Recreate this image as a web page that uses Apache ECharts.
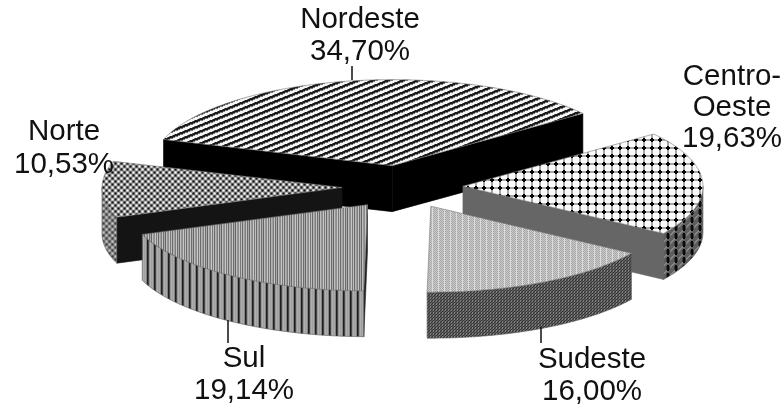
<!DOCTYPE html>
<html>
<head>
<meta charset="utf-8">
<style>html,body{margin:0;padding:0;background:#fff}#chart{width:784px;height:404px}</style>
<script src="https://cdn.jsdelivr.net/npm/echarts@6/dist/echarts.min.js"></script>
</head>
<body>
<div id="chart"></div>
<script>
// Regional shares, listed clockwise starting from Nordeste
const regions = ['Nordeste', 'Centro-Oeste', 'Sudeste', 'Sul', 'Norte'];
const shares = [34.70, 19.63, 16.00, 19.14, 10.53];
const labelLines = [['Nordeste'], ['Centro-', 'Oeste'], ['Sudeste'], ['Sul'], ['Norte']];

// Projection of the tilted, exploded pie
const centerX = 402.5, centerY = 187;
const radiusX = 240, radiusY = 86, thickness = 46, explode = 60.5;
const startAngle = 162.3;

// Back-to-front painting rank of each slice
const paintRank = [0, 1, 3, 4, 2];

// Label placement: centre x, first line y, line spacing
const labelX = [360, 732, 592, 244, 64];
const labelY = [20, 77, 360, 359, 132];
const lineGap = [32, 31, 32, 32, 33];
// Leader ticks: x, y from, y to
const leaders = [[352, 66, 80], null, [541, 327, 343], [228, 320, 343], null];

// Builds a repeating fill from a per-pixel grey function
function tile(w, h, greyAt) {
  const c = document.createElement('canvas');
  c.width = w; c.height = h;
  const g = c.getContext('2d');
  for (let y = 0; y < h; y++) {
    for (let x = 0; x < w; x++) {
      const v = Math.max(0, Math.min(255, Math.round(greyAt(x, y))));
      g.fillStyle = 'rgb(' + v + ',' + v + ',' + v + ')';
      g.fillRect(x, y, 1, 1);
    }
  }
  return { image: c, repeat: 'repeat' };
}

// Nordeste: shallow diagonal hatching
const hatch = tile(15, 6, (x, y) => {
  const p = (y + x * 0.4) % 6;
  return p < 2 ? 25 : (p < 3 || p > 5.4 ? 120 : 245);
});
// Centro-Oeste: round dots joined by a faint grid
const dotsTop = tile(8, 8, (x, y) => {
  const dx = Math.abs(x - 3.5), dy = Math.abs(y - 3.5);
  if (Math.hypot(dx, dy) < 2) return 0;
  if (dx < 1 || dy < 1) return 165;
  return 250;
});
const dotsSide = tile(8, 8, (x, y) => {
  const dx = Math.abs(x - 3.5), dy = Math.abs(y - 3.5);
  if (dx < 1 && dy < 3) return 10;
  if (dx < 2 && dy < 2) return 55;
  return (x + y) % 8 < 2 ? 135 : 95;
});
// Norte: soft checker
const checker = (base, depth) => (x, y) =>
  base - depth * Math.cos(Math.PI * (x - 1) / 3) * Math.cos(Math.PI * (y - 1) / 3);
const checkTop = tile(6, 6, checker(140, 125));
const checkSide = tile(6, 6, checker(130, 70));
// Sul and Sudeste: fine vertical ribbing
const sulTop = tile(14, 4, (x) => [140, 200, 120, 190, 105, 180, 160, 125, 195, 110, 170, 100, 190, 150][x]);
const sulSide = tile(7, 4, (x) => [30, 70, 150, 175, 160, 170, 130][x]);
const sudesteTop = tile(6, 2, (x, y) => (x === 0 ? 220 : ((x + y) % 2 ? 205 : 165)));
const sudesteSide = tile(3, 3, (x, y) => ((x + y) % 3 === 0 ? 50 : (x % 3 === 1 ? 130 : 90)));

const topFill = [hatch, dotsTop, sudesteTop, sulTop, checkTop];
const arcFill = ['#000', dotsSide, sudesteSide, sulSide, checkSide];
const cutFill = ['#000', '#666', '#555', '#222', '#141414'];

const rad = d => d * Math.PI / 180;
const point = (cx, cy, deg, dy) => [
  cx + radiusX * Math.cos(rad(deg)),
  cy - radiusY * Math.sin(rad(deg)) + (dy || 0)
];
const arcPoints = (cx, cy, from, to, dy) => {
  const steps = Math.max(2, Math.ceil(Math.abs(to - from) * 2));
  const pts = [];
  for (let i = 0; i <= steps; i++) pts.push(point(cx, cy, from + (to - from) * i / steps, dy));
  return pts;
};

function renderItem(params, api) {
  const i = params.dataIndex;
  const value = api.value(0);
  let before = 0;
  for (let k = 0; k < i; k++) before += shares[k];
  const a0 = startAngle - before * 3.6;
  const a1 = a0 - value * 3.6;
  const mid = (a0 + a1) / 2;
  const cx = centerX + explode * Math.cos(rad(mid));
  const cy = centerY - explode * (radiusY / radiusX) * Math.sin(rad(mid));
  const z = paintRank[i] * 10;
  const shapes = [];
  const poly = (points, fill, zOff, stroke) => shapes.push({
    type: 'polygon', z2: z + zOff, shape: { points },
    style: { fill, stroke, lineWidth: 0.6 }
  });

  // Cut faces: a wall is visible when it turns towards the viewer
  [[a0, true], [a1, false]].forEach(([edge, isStart]) => {
    const dirCos = Math.cos(rad(edge));
    const facing = isStart ? -dirCos : dirCos;
    if (facing > 0) {
      const p = point(cx, cy, edge);
      poly([[cx, cy], p, [p[0], p[1] + thickness], [cx, cy + thickness]], cutFill[i], 0, cutFill[i]);
    }
  });

  // Outer rim: only its part on the near half of the ellipse shows
  for (let turn = -360; turn <= 0; turn += 360) {
    const lo = Math.max(a1, 180 + turn), hi = Math.min(a0, 360 + turn);
    if (lo < hi) {
      const upper = arcPoints(cx, cy, hi, lo, 0);
      const lower = arcPoints(cx, cy, lo, hi, thickness);
      poly(upper.concat(lower), arcFill[i], 1, '#555');
    }
  }

  // Top face
  poly([[cx, cy]].concat(arcPoints(cx, cy, a0, a1, 0)), topFill[i], 2, '#777');

  // Leader tick and label
  if (leaders[i]) {
    const [lx, y0, y1] = leaders[i];
    shapes.push({
      type: 'line', z2: 100, shape: { x1: lx, y1: y0, x2: lx, y2: y1 },
      style: { stroke: '#111', lineWidth: 1.5 }
    });
  }
  const lines = labelLines[i].concat(value.toFixed(2).replace('.', ',') + '%');
  lines.forEach((text, n) => shapes.push({
    type: 'text', z2: 101,
    style: {
      text, x: labelX[i], y: labelY[i] + n * lineGap[i],
      textAlign: 'center', textVerticalAlign: 'middle',
      font: '29.5px "Liberation Sans", Arial, sans-serif', fill: '#111'
    }
  }));
  return { type: 'group', children: shapes };
}

const chart = echarts.init(document.getElementById('chart'), null, { renderer: 'canvas' });
chart.setOption({
  animation: false,
  backgroundColor: '#fff',
  series: [{
    type: 'custom',
    name: 'Participação por região',
    coordinateSystem: 'none',
    silent: true,
    renderItem,
    data: shares.map((v, i) => ({ name: regions[i], value: [v] }))
  }]
});
</script>
</body>
</html>
